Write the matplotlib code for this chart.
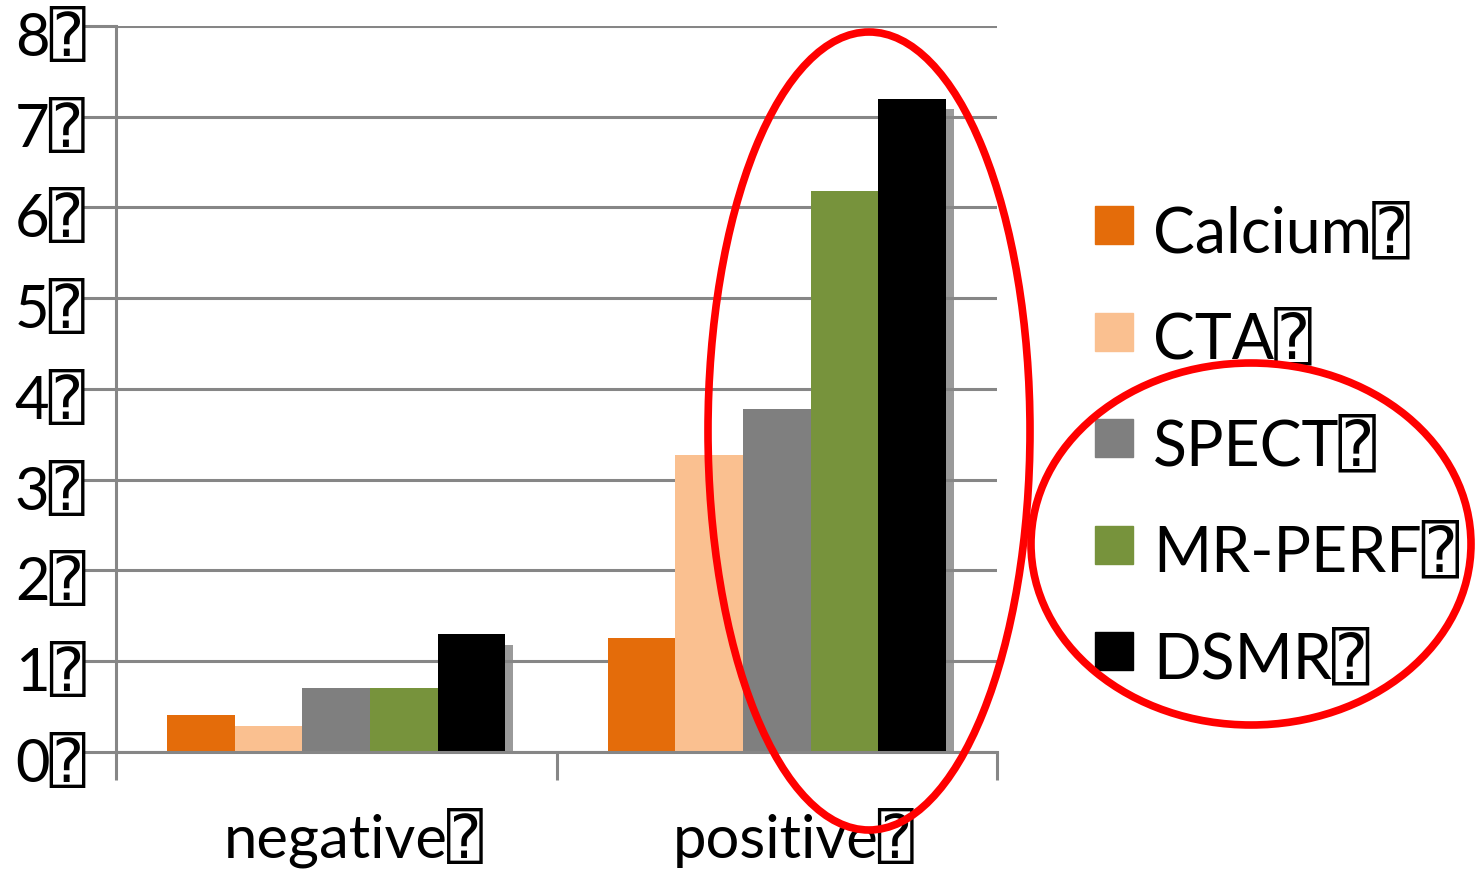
import numpy as np
import matplotlib.pyplot as plt
from matplotlib.patches import Ellipse, Rectangle
from matplotlib import transforms

plt.rcParams['font.family'] = ['Lato', 'DejaVu Sans', 'DejaVu Sans Mono']

BOX = '\u2370'

groups = ['negative', 'positive']
methods = ['Calcium', 'CTA', 'SPECT', 'MR-PERF', 'DSMR']
colors = ['#E46C0A', '#FAC090', '#7F7F7F', '#77933C', '#000000']
values = {
    'Calcium': [0.41, 1.26],
    'CTA': [0.29, 3.27],
    'SPECT': [0.70, 3.78],
    'MR-PERF': [0.70, 6.18],
    'DSMR': [1.30, 7.20],
}
yticks = [0, 1, 2, 3, 4, 5, 6, 7, 8]

grid_col = '#868686'

fig = plt.figure(figsize=(14.78, 8.76), dpi=100)
ax = fig.add_axes([0.0785, 0.1416, 0.5961, 0.8288])

x = np.arange(len(groups))
w = 0.1535
# soft drop shadow, shifted a few pixels right
shift = transforms.offset_copy(ax.transData, fig=fig, x=8, y=0, units='dots')
for i, m in enumerate(methods):
    pos = x + (i - 2) * w
    h = np.array(values[m])
    ax.bar(pos, h - 0.09, w, bottom=-0.03, color='#9a9a9a', zorder=1,
           transform=shift, linewidth=0)
for i, m in enumerate(methods):
    pos = x + (i - 2) * w
    ax.bar(pos, values[m], w, color=colors[i], zorder=2, linewidth=0)

ax.set_xlim(-0.5, 1.5)
ax.set_ylim(0, 8)
ax.set_axisbelow('line')
ax.yaxis.grid(True, color=grid_col, linewidth=2.2)
ax.set_yticks(yticks)
ax.set_yticklabels([f'{v}{BOX}' for v in yticks], fontsize=43)
ax.set_xticks([-0.5, 0.5, 1.5])
ax.set_xticklabels([])
ax.set_xticks(x, minor=True)
ax.set_xticklabels([g + BOX for g in groups], minor=True, fontsize=43)
ax.tick_params(axis='x', which='minor', length=0, pad=40)
ax.tick_params(axis='x', which='major', length=20, width=2.2, color=grid_col)
ax.tick_params(axis='y', length=24, width=2.2, color=grid_col, pad=-2)
for s in ['top', 'right']:
    ax.spines[s].set_visible(False)
for s in ['left', 'bottom']:
    ax.spines[s].set_color(grid_col)
    ax.spines[s].set_linewidth(2.2)

# nudge tick labels: y labels sit a bit low, x labels a bit right
for lab in ax.get_yticklabels():
    lab.set_transform(lab.get_transform() +
                      transforms.ScaledTranslation(0, -7 / 100, fig.dpi_scale_trans))
for lab in ax.get_xticklabels(minor=True):
    lab.set_transform(lab.get_transform() +
                      transforms.ScaledTranslation(17 / 100, 0, fig.dpi_scale_trans))

# legend
W, H = 1478, 876
for i, m in enumerate(methods):
    yc = 225 + i * 106.5
    fig.patches.append(Rectangle((1095 / W, 1 - (yc + 19) / H), 38 / W, 38 / H,
                                 transform=fig.transFigure, color=colors[i]))
    fig.text(1153 / W, 1 - (yc + 27) / H, m + BOX, fontsize=45, va='baseline', ha='left')

# red highlight ellipses
for cx, cy, ew, eh in [(869, 431, 322, 798), (1251, 544, 440, 362)]:
    fig.patches.append(Ellipse((cx / W, 1 - cy / H), ew / W, eh / H,
                               transform=fig.transFigure, fill=False,
                               edgecolor='#FF0000', linewidth=5.5, zorder=5))

fig.savefig('out.png', dpi=100)
